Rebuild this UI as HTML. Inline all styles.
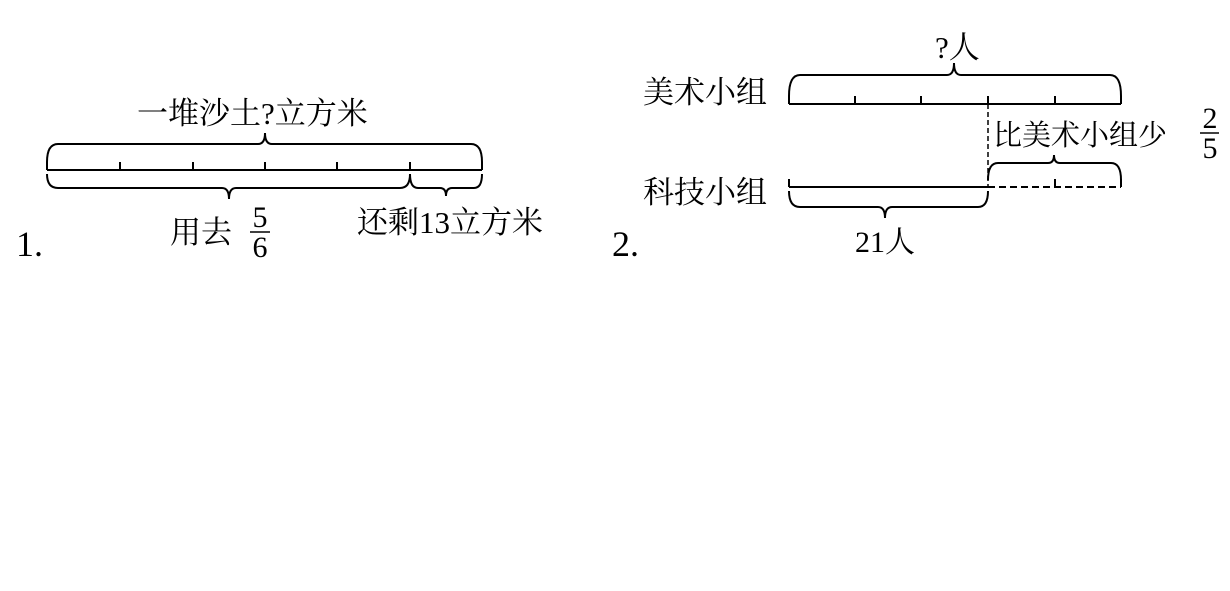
<!DOCTYPE html>
<html><head><meta charset="utf-8"><style>
body{margin:0;background:#fff;width:1230px;height:586px;overflow:hidden}
svg text{font-family:"Liberation Serif","Noto Serif CJK SC",serif;fill:#000}
</style></head><body>
<svg width="1230" height="586" viewBox="0 0 1230 586" xmlns="http://www.w3.org/2000/svg">
<g fill="none" stroke="#000" stroke-width="2">
<line x1="47" y1="170" x2="482" y2="170"/>
<line x1="47" y1="162" x2="47" y2="170"/>
<line x1="482" y1="162" x2="482" y2="170"/>
<line x1="120" y1="162" x2="120" y2="170"/>
<line x1="193" y1="162" x2="193" y2="170"/>
<line x1="265" y1="162" x2="265" y2="170"/>
<line x1="337" y1="162" x2="337" y2="170"/>
<line x1="410" y1="162" x2="410" y2="170"/>
<path d="M47 162 Q47 144 58 144 L258 144 Q265 144 265 133 Q265 144 272 144 L471 144 Q482 144 482 162"/>
<path d="M47 174 Q47 188 58 188 L222 188 Q229 188 229 199 Q229 188 236 188 L400 188 Q410 188 410 174"/>
<path d="M410 174 Q410 188 418 188 L440 188 Q446 188 446 196 Q446 188 452 188 L474 188 Q482 188 482 174"/>
<line x1="789" y1="104" x2="1121" y2="104"/>
<line x1="789" y1="96" x2="789" y2="104"/>
<line x1="1121" y1="96" x2="1121" y2="104"/>
<line x1="855" y1="96" x2="855" y2="104"/>
<line x1="921" y1="96" x2="921" y2="104"/>
<line x1="988" y1="96" x2="988" y2="104"/>
<line x1="1055" y1="96" x2="1055" y2="104"/>
<path d="M789 96 Q789 75 800 75 L947 75 Q954 75 954 63 Q954 75 961 75 L1110 75 Q1121 75 1121 96"/>
<line x1="988" y1="104" x2="988" y2="187" stroke-dasharray="5,3" stroke-width="1.5"/>
<line x1="789" y1="187" x2="988" y2="187"/>
<line x1="789" y1="179" x2="789" y2="187"/>
<line x1="988" y1="187" x2="1121" y2="187" stroke-dasharray="7,4"/>
<line x1="1055" y1="179" x2="1055" y2="187"/>
<line x1="1121" y1="179" x2="1121" y2="187"/>
<path d="M988 180 Q988 163 998 163 L1048 163 Q1054 163 1054 155 Q1054 163 1060 163 L1111 163 Q1121 163 1121 180"/>
<path d="M789 191 Q789 207 800 207 L878 207 Q885 207 885 218 Q885 207 892 207 L978 207 Q988 207 988 191"/>
<line x1="250" y1="232" x2="270" y2="232" stroke-width="1.5"/>
<line x1="1200" y1="133" x2="1219" y2="133" stroke-width="1.5"/>
</g>
<g font-size="31">
<text x="137" y="124">一堆沙土?立方米</text>
<text x="170" y="243">用去</text>
<text x="357" y="233">还剩13立方米</text>
<text x="260" y="227" text-anchor="middle" font-size="30">5</text>
<text x="260" y="257" text-anchor="middle" font-size="30">6</text>
<text x="16" y="256" font-size="36">1.</text>
</g>
<g font-size="31">
<text x="935" y="58">?人</text>
<text x="643" y="103">美术小组</text>
<text x="993" y="145" font-size="29">比美术小组少</text>
<text x="1210" y="128" text-anchor="middle" font-size="30">2</text>
<text x="1210" y="158" text-anchor="middle" font-size="30">5</text>
<text x="643" y="203">科技小组</text>
<text x="855" y="252" font-size="30">21人</text>
<text x="612" y="256" font-size="36">2.</text>
</g>
</svg>
</body></html>
